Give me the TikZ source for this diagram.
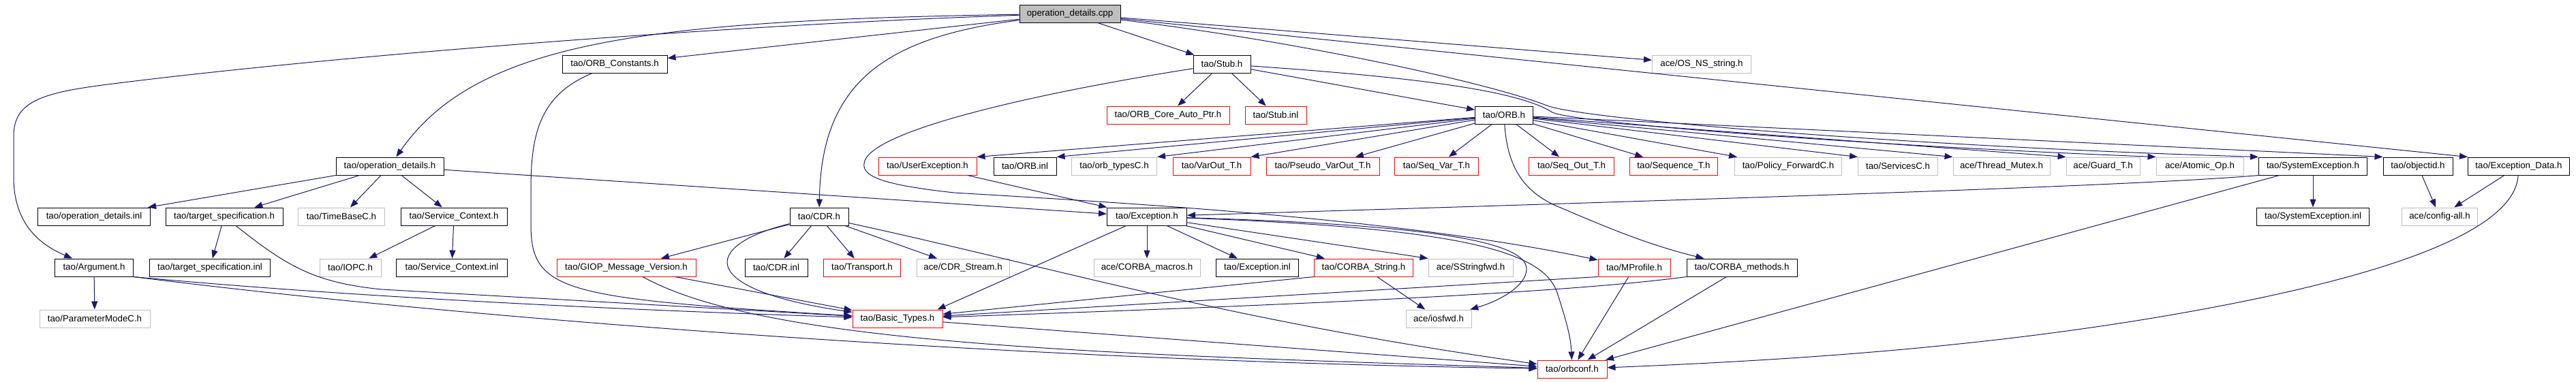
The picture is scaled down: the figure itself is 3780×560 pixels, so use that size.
\documentclass[tikz,border=0pt]{standalone}
\usepackage{fontspec}
\setmainfont{Liberation Sans}
\usetikzlibrary{arrows.meta,calc}
\definecolor{cEdge}{HTML}{191970}
\definecolor{cRed}{HTML}{FF0000}
\definecolor{cGray}{HTML}{BFBFBF}
\begin{document}
\begin{tikzpicture}[x=1pt,y=-1pt,
  nbox/.style={draw=black,line width=1pt,minimum height=26pt,inner sep=0pt,text=black,font=\fontsize{13.3pt}{16pt}\selectfont},
  nred/.style={nbox,draw=cRed},
  ngray/.style={nbox,draw=cGray},
  nroot/.style={nbox,fill=cGray},
  edge/.style={draw=cEdge,line width=1pt,-{Triangle[length=12pt,width=9pt]}}]
\useasboundingbox (0,0) rectangle (3780,560);
\fill[white] (0,0) rectangle (3780,560);
% ---- nodes
\node[nroot,minimum width=148pt] (root) at (1570,20) {operation\_details.cpp};
\node[nbox,minimum width=154pt] (orbc) at (902,94) {tao/ORB\_Constants.h};
\node[nbox,minimum width=84pt] (stub) at (1793,94) {tao/Stub.h};
\node[ngray,minimum width=145pt] (osns) at (2497,94) {ace/OS\_NS\_string.h};
\node[nred,minimum width=180pt] (ocap) at (1714,169) {tao/ORB\_Core\_Auto\_Ptr.h};
\node[nred,minimum width=90pt] (stubinl) at (1872,169) {tao/Stub.inl};
\node[nbox,minimum width=85pt] (orbh) at (2207,169) {tao/ORB.h};
\node[nbox,minimum width=158pt] (opdh) at (572,244) {tao/operation\_details.h};
\node[nred,minimum width=144pt] (uex) at (1361,244) {tao/UserException.h};
\node[nbox,minimum width=92pt] (orbinl) at (1504,244) {tao/ORB.inl};
\node[ngray,minimum width=125pt] (orbtypes) at (1635,244) {tao/orb\_typesC.h};
\node[nred,minimum width=114pt] (varout) at (1778,244) {tao/VarOut\_T.h};
\node[nred,minimum width=166pt] (pvarout) at (1941,244) {tao/Pseudo\_VarOut\_T.h};
\node[nred,minimum width=123pt] (seqvar) at (2108,244) {tao/Seq\_Var\_T.h};
\node[nred,minimum width=125pt] (seqout) at (2306,244) {tao/Seq\_Out\_T.h};
\node[nred,minimum width=129pt] (seqt) at (2456,244) {tao/Sequence\_T.h};
\node[ngray,minimum width=157pt] (polfwd) at (2624,244) {tao/Policy\_ForwardC.h};
\node[ngray,minimum width=117pt] (services) at (2785,244) {tao/ServicesC.h};
\node[ngray,minimum width=142pt] (tmutex) at (2937,244) {ace/Thread\_Mutex.h};
\node[ngray,minimum width=108pt] (guard) at (3086,244) {ace/Guard\_T.h};
\node[ngray,minimum width=128pt] (atomic) at (3228,244) {ace/Atomic\_Op.h};
\node[nbox,minimum width=159pt] (sysex) at (3394,244) {tao/SystemException.h};
\node[nbox,minimum width=102pt] (objid) at (3548,244) {tao/objectid.h};
\node[nbox,minimum width=149pt] (exdata) at (3696,244) {tao/Exception\_Data.h};
\node[nbox,minimum width=165pt] (opdinl) at (138,318) {tao/operation\_details.inl};
\node[nbox,minimum width=172pt] (tspec) at (329,318) {tao/target\_specification.h};
\node[ngray,minimum width=127pt] (timebase) at (501,318) {tao/TimeBaseC.h};
\node[nbox,minimum width=156pt] (sctx) at (666,318) {tao/Service\_Context.h};
\node[nbox,minimum width=86pt] (cdr) at (1202,318) {tao/CDR.h};
\node[nbox,minimum width=117pt] (exc) at (1683,318) {tao/Exception.h};
\node[nbox,minimum width=165pt] (sysexinl) at (3394,318) {tao/SystemException.inl};
\node[ngray,minimum width=111pt] (config) at (3580,318) {ace/config-all.h};
\node[nbox,minimum width=115pt] (arg) at (138,393) {tao/Argument.h};
\node[nbox,minimum width=177pt] (tspecinl) at (308,393) {tao/target\_specification.inl};
\node[ngray,minimum width=90pt] (iopc) at (514,393) {tao/IOPC.h};
\node[nbox,minimum width=163pt] (sctxinl) at (663,393) {tao/Service\_Context.inl};
\node[nred,minimum width=204pt] (giop) at (919,393) {tao/GIOP\_Message\_Version.h};
\node[nbox,minimum width=92pt] (cdrinl) at (1139,393) {tao/CDR.inl};
\node[nred,minimum width=113pt] (transport) at (1265,393) {tao/Transport.h};
\node[ngray,minimum width=136pt] (cdrstream) at (1413,393) {ace/CDR\_Stream.h};
\node[ngray,minimum width=156pt] (macros) at (1683,393) {ace/CORBA\_macros.h};
\node[nbox,minimum width=121pt] (excinl) at (1845,393) {tao/Exception.inl};
\node[nred,minimum width=145pt] (cstring) at (2001,393) {tao/CORBA\_String.h};
\node[ngray,minimum width=124pt] (sstring) at (2158,393) {ace/SStringfwd.h};
\node[nred,minimum width=106pt] (mprof) at (2398,393) {tao/MProfile.h};
\node[nbox,minimum width=162pt] (cmeth) at (2556,393) {tao/CORBA\_methods.h};
\node[ngray,minimum width=162pt] (pmode) at (139,468) {tao/ParameterModeC.h};
\node[nred,minimum width=132pt] (basic) at (1317,468) {tao/Basic\_Types.h};
\node[ngray,minimum width=96pt] (iosfwd) at (2111,468) {ace/iosfwd.h};
\node[nred,minimum width=102pt] (orbconf) at (2307,542) {tao/orbconf.h};
% ---- edges: root
\draw[edge] (root) .. controls (950,30) and (700,60) .. (opdh);
\draw[edge] (root) -- (orbc);
\draw[edge] (root) .. controls (1100,35) and (500,80) .. (150,125) .. controls (60,137) and (20,150) .. (20,200) -- (20,260) .. controls (20,330) and (60,360) .. (arg);
\draw[edge] (root) .. controls (1300,55) and (1205,120) .. (cdr);
\draw[edge] (root) -- (stub);
\draw[edge] (root) -- (osns);
\draw[edge] (root) -- (exdata.north west);
\draw[edge] (root) .. controls (1900,60) and (2180,120) .. (2270,155) .. controls (2320,175) and (2800,215) .. (sysex.north west);
% Stub.h
\draw[edge] (stub) -- (ocap);
\draw[edge] (stub) -- (stubinl);
\draw[edge] (stub) -- (orbh);
\draw[edge] (stub) .. controls (1500,140) and (1272,195) .. (1268,240) .. controls (1264,262) and (1310,273) .. (1400,283) .. controls (1650,298) and (2050,320) .. (mprof);
\draw[edge] (stub) .. controls (2100,115) and (2230,135) .. (2278,165) .. controls (2310,180) and (2700,212) .. (atomic.north west);
% ORB.h
\draw[edge] (orbh) -- (uex.north east);
\draw[edge] (orbh) -- (orbinl.north east);
\draw[edge] (orbh) -- (orbtypes.north east);
\draw[edge] (orbh) -- (varout.north east);
\draw[edge] (orbh) -- (pvarout);
\draw[edge] (orbh) -- (seqvar);
\draw[edge] (orbh) -- (seqout);
\draw[edge] (orbh) -- (seqt);
\draw[edge] (orbh) -- (polfwd);
\draw[edge] (orbh) -- (services.north west);
\draw[edge] (orbh) -- (tmutex.north west);
\draw[edge] (orbh) -- (guard.north west);
\draw[edge] (orbh) -- (objid.north west);
\draw[edge] (orbh) .. controls (2212,250) and (2240,285) .. (2290,305) .. controls (2360,335) and (2420,360) .. (cmeth);
% operation_details.h
\draw[edge] (opdh) -- (opdinl);
\draw[edge] (opdh) -- (tspec);
\draw[edge] (opdh) -- (timebase);
\draw[edge] (opdh) -- (sctx);
\draw[edge] (opdh) -- (exc);
% target_specification.h, Service_Context.h, Argument.h
\draw[edge] (tspec) -- (tspecinl);
\draw[edge] (tspec) .. controls (420,390) and (460,415) .. (560,425) -- (basic);
\draw[edge] (sctx) -- (iopc);
\draw[edge] (sctx) -- (sctxinl);
\draw[edge] (arg) -- (pmode);
\draw[edge] (arg.south east) .. controls (500,435) and (900,455) .. (basic);
\draw[edge] (arg.south east) .. controls (700,470) and (1500,530) .. (orbconf);
% ORB_Constants.h
\draw[edge] (orbc) .. controls (790,140) and (779,200) .. (779,280) -- (779,330) .. controls (779,430) and (830,438) .. (basic);
% CDR.h
\draw[edge] (cdr) -- (giop);
\draw[edge] (cdr) -- (cdrinl);
\draw[edge] (cdr) -- (transport);
\draw[edge] (cdr) -- (cdrstream);
\draw[edge] (cdr) .. controls (1030,360) and (1020,425) .. (basic);
\draw[edge] (cdr) .. controls (1560,396) and (1800,470) .. (orbconf);
% GIOP, Basic_Types
\draw[edge] (giop) -- (basic);
\draw[edge] (giop) .. controls (1120,505) and (1600,520) .. (orbconf);
\draw[edge] (basic) -- (orbconf);
% Exception.h
\draw[edge] (exc) -- ($(basic.north east)+(-8,0)$);
\draw[edge] (exc) -- (macros);
\draw[edge] (exc) -- (excinl);
\draw[edge] (exc) -- (cstring);
\draw[edge] (exc) -- (sstring.north west);
\draw[edge] (exc) .. controls (2100,330) and (2240,355) .. (2240,395) .. controls (2240,420) and (2200,442) .. (iosfwd);
\draw[edge] (exc) .. controls (2150,335) and (2265,370) .. (2285,430) .. controls (2298,470) and (2305,495) .. (orbconf);
% CORBA_String, MProfile, CORBA_methods
\draw[edge] (cstring) -- (iosfwd);
\draw[edge] (cstring.south west) -- (basic);
\draw[edge] (mprof.south west) -- (basic);
\draw[edge] (mprof) -- (orbconf);
\draw[edge] (cmeth.south west) .. controls (2300,430) and (1900,448) .. (basic);
\draw[edge] (cmeth) -- (orbconf);
% UserException, SystemException
\draw[edge] (uex) -- (exc);
\draw[edge] (sysex.south west) .. controls (3150,272) and (2600,290) .. (exc);
\draw[edge] (sysex) -- (sysexinl);
\draw[edge] (sysex) -- (orbconf);
% Exception_Data, objectid
\draw[edge] (exdata) -- (config);
\draw[edge] (exdata) .. controls (3690,340) and (3500,407) .. (3200,460) .. controls (2900,513) and (2600,530) .. (orbconf);
\draw[edge] (objid) -- (config);
\end{tikzpicture}
\end{document}
